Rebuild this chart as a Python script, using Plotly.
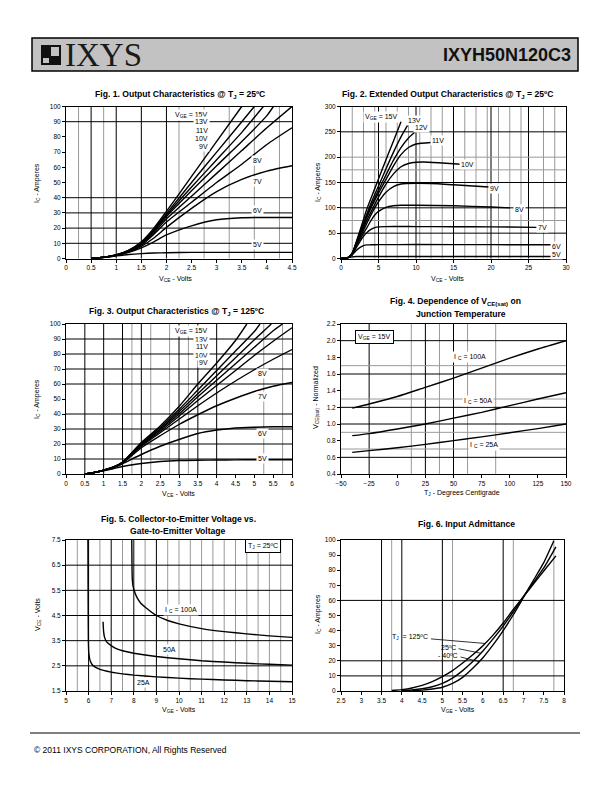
import plotly.graph_objects as go

W, H = 612, 792


def px(x):
    return x / W


def py(y):
    return 1 - y / H


# ======================= DATA =======================
# ---- Fig. 1  Output characteristics @ TJ = 25C (VCE volts, IC amperes)
F1_VGE_LABELS = ["15V", "13V", "11V", "10V", "9V", "8V", "7V", "6V", "5V"]
F1_X_15V = [0.5, 0.75, 1.0, 1.25, 1.5, 1.75, 2.0, 2.5, 3.0, 3.5]
F1_Y_15V = [0, 0.8, 2.3, 5.5, 11, 20, 31, 54, 77, 100]
F1_X_13V = [0.5, 0.75, 1.0, 1.25, 1.5, 1.75, 2.0, 2.5, 3.0, 3.5, 3.75]
F1_Y_13V = [0, 0.8, 2.3, 5.3, 10.5, 19, 29.5, 50, 70, 90, 100]
F1_X_11V = [0.5, 0.75, 1.0, 1.25, 1.5, 1.75, 2.0, 2.5, 3.0, 3.5, 3.93]
F1_Y_11V = [0, 0.8, 2.3, 5.2, 10, 18.5, 28.5, 47, 65, 83, 100]
F1_X_10V = [0.5, 0.75, 1.0, 1.25, 1.5, 1.75, 2.0, 2.5, 3.0, 3.5, 4.0, 4.13]
F1_Y_10V = [0, 0.8, 2.3, 5.0, 9.7, 18, 27.5, 44.5, 61, 77, 94, 100]
F1_X_FULL = [0.5, 0.75, 1.0, 1.25, 1.5, 1.75, 2.0, 2.5, 3.0, 3.5, 4.0, 4.5]
F1_Y_9V = [0, 0.8, 2.2, 4.9, 9.3, 17, 26, 41, 56, 71, 86, 100]
F1_Y_8V = [0, 0.8, 2.2, 4.7, 8.8, 16, 24, 37, 50, 62, 75, 86]
F1_Y_7V = [0, 0.8, 2.1, 4.4, 8.0, 13.5, 20.5, 33, 44, 52, 57.5, 61]
F1_Y_6V = [0, 0.8, 2.0, 4.0, 7.0, 11, 15.5, 21.5, 25.5, 26.8, 27, 27]
F1_Y_5V = [0, 0.7, 1.7, 2.6, 3.2, 3.6, 3.8, 4.0, 4.0, 4.0, 4.0, 4.0]

# ---- Fig. 2  Extended output characteristics @ TJ = 25C
F2_X_15V = [0, 0.5, 1.0, 1.5, 2.0, 2.5, 3.0, 3.5, 4, 5, 6, 7, 8]
F2_Y_15V = [0, 0, 2.3, 11, 31, 54, 77, 100, 119, 157, 195, 232, 270]
F2_X_13V = [0, 0.5, 1.0, 1.5, 2.0, 2.5, 3.0, 3.5, 4, 5, 6, 7, 8, 9.05]
F2_Y_13V = [0, 0, 2.3, 10.5, 29.5, 50, 70, 90, 109, 143, 177, 210, 240, 267]
F2_X_12V = [0, 0.5, 1.0, 1.5, 2.0, 2.5, 3.0, 3.5, 4, 5, 6, 7, 8, 9, 10]
F2_Y_12V = [0, 0, 2.3, 10.2, 29, 48.5, 67.5, 86.5, 104, 135, 165, 194, 219, 238, 251]
F2_X_11V = [0, 0.5, 1.0, 1.5, 2.0, 2.5, 3.0, 3.5, 4, 5, 6, 7, 8, 9, 10, 12]
F2_Y_11V = [0, 0, 2.3, 10, 28.5, 47, 65, 83, 100, 129, 156, 183, 205, 219, 226, 229]
F2_X_10V = [0, 0.5, 1.0, 1.5, 2.0, 2.5, 3.0, 3.5, 4, 5, 6, 7, 8, 9, 10, 11, 13, 16]
F2_Y_10V = [0, 0, 2.3, 9.7, 27.5, 44.5, 61, 77, 92, 121, 147, 167, 181, 187.5, 190, 190.5, 189, 186]
F2_X_9V = [0, 0.5, 1.0, 1.5, 2.0, 2.5, 3.0, 3.5, 4, 4.5, 5, 6, 7, 8, 10, 12, 15, 19.7]
F2_Y_9V = [0, 0, 2.2, 9.3, 26, 41, 56, 71, 86, 100, 112, 131, 142, 147, 148.5, 148, 145.5, 141]
F2_X_8V = [0, 0.5, 1.0, 1.5, 2.0, 2.5, 3.0, 3.5, 4, 4.5, 5, 6, 7, 8, 10, 15, 20, 22.5]
F2_Y_8V = [0, 0, 2.2, 8.8, 24, 37, 50, 62, 75, 86, 93, 101, 104, 105, 105, 104, 101.5, 100]
F2_X_7V = [0, 0.5, 1.0, 1.5, 2.0, 2.5, 3.0, 3.5, 4, 4.5, 5, 6, 8, 10, 15, 20, 26.1]
F2_Y_7V = [0, 0, 2.1, 8, 20.5, 33, 44, 52, 57.5, 61, 62.5, 63, 63.2, 63, 62.8, 62.5, 61.5]
F2_X_6V = [0, 0.5, 1.0, 1.5, 2.0, 2.5, 3.0, 3.5, 4, 5, 10, 20, 28.2]
F2_Y_6V = [0, 0, 2.0, 7, 15.5, 21.5, 25.5, 26.8, 27, 27.3, 27.5, 27.3, 27]
F2_X_5V = [0, 0.5, 1.0, 1.5, 2.0, 3, 4, 10, 20, 28.5]
F2_Y_5V = [0, 0, 1.7, 3.2, 3.8, 4, 4, 4, 4, 4]

# ---- Fig. 3  Output characteristics @ TJ = 125C
F3_X_15V = [0.5, 0.75, 1.0, 1.25, 1.5, 2.0, 2.5, 3.0, 3.5, 4.0, 4.5, 4.8]
F3_Y_15V = [0, 1, 2.5, 4.5, 8.0, 21, 32, 45, 60, 74, 89, 100]
F3_X_13V = [0.5, 0.75, 1.0, 1.25, 1.5, 2.0, 2.5, 3.0, 3.5, 4.0, 4.5, 5.0, 5.15]
F3_Y_13V = [0, 1, 2.5, 4.5, 7.8, 20.5, 31, 43, 56, 69, 82, 95, 100]
F3_X_11V = [0.5, 0.75, 1.0, 1.25, 1.5, 2.0, 2.5, 3.0, 3.5, 4.0, 4.5, 5.0, 5.45]
F3_Y_11V = [0, 1, 2.5, 4.5, 7.7, 20, 30, 41.5, 53.5, 65.5, 77.5, 89.5, 100]
F3_X_10V = [0.5, 0.75, 1.0, 1.25, 1.5, 2.0, 2.5, 3.0, 3.5, 4.0, 4.5, 5.0, 5.5, 5.75]
F3_Y_10V = [0, 1, 2.5, 4.5, 7.6, 19.5, 29.5, 40, 51.5, 62.5, 73.5, 84.5, 95.5, 100]
F3_X_FULL = [0.5, 0.75, 1.0, 1.25, 1.5, 2.0, 2.5, 3.0, 3.5, 4.0, 4.5, 5.0, 5.5, 6.0]
F3_Y_9V = [0, 1, 2.5, 4.4, 7.5, 19, 28.5, 38.5, 49, 59, 69, 79, 88.5, 97.5]
F3_Y_8V = [0, 1, 2.5, 4.4, 7.4, 18.5, 27.5, 36.5, 45.5, 54, 62, 69.5, 76.5, 83]
F3_Y_7V = [0, 1, 2.4, 4.3, 7.2, 17.5, 25.5, 33, 39.5, 45.5, 50.5, 55, 58.5, 61]
F3_Y_6V = [0, 1, 2.3, 4.1, 6.8, 13, 18.5, 23, 27, 29.3, 30.7, 31.2, 31.5, 31.5]
F3_Y_5V = [0, 0.9, 2.2, 3.5, 5.0, 7.0, 8.3, 9.0, 9.2, 9.3, 9.4, 9.5, 9.5, 9.5]

# ---- Fig. 4  VCE(sat) normalized vs junction temperature
F4_TJ = [-40, -25, 0, 25, 50, 75, 100, 125, 150]
F4_100A = [1.19, 1.24, 1.33, 1.44, 1.55, 1.67, 1.79, 1.90, 2.00]
F4_50A = [0.86, 0.885, 0.94, 1.0, 1.07, 1.14, 1.22, 1.30, 1.375]
F4_25A = [0.66, 0.68, 0.715, 0.755, 0.80, 0.845, 0.895, 0.945, 1.0]

# ---- Fig. 5  VCE vs VGE @ TJ = 25C
F5_X_100A = [7.91, 7.92, 7.93, 7.96, 8.05, 8.15, 8.3, 8.55, 9.0, 9.5, 10, 11, 12, 13, 14, 15]
F5_Y_100A = [7.5, 6.5, 6.0, 5.7, 5.4, 5.2, 5.0, 4.8, 4.5, 4.3, 4.17, 3.98, 3.86, 3.77, 3.69, 3.63]
F5_X_50A = [6.64, 6.66, 6.7, 6.8, 7.0, 7.25, 7.5, 8, 9, 10, 11, 12, 13, 14, 15]
F5_Y_50A = [4.25, 3.9, 3.65, 3.45, 3.3, 3.17, 3.1, 3.0, 2.87, 2.78, 2.7, 2.65, 2.6, 2.56, 2.53]
F5_X_25A = [5.97, 5.98, 5.99, 6.01, 6.07, 6.2, 6.45, 7.0, 7.5, 8, 9, 10, 11, 12, 13, 14, 15]
F5_Y_25A = [7.5, 5.0, 3.5, 3.0, 2.7, 2.5, 2.38, 2.25, 2.18, 2.13, 2.06, 2.01, 1.97, 1.94, 1.91, 1.89, 1.87]

# ---- Fig. 6  Input admittance (VGE volts, IC amperes)
F6_X_125C = [3.75, 4.0, 4.25, 4.5, 4.75, 5.0, 5.25, 5.5, 5.75, 6.0, 6.25, 6.5, 6.75, 7.0, 7.25, 7.5, 7.8]
F6_Y_125C = [0.3, 0.9, 2.0, 3.7, 6.2, 9.5, 13.5, 18.5, 24, 30, 37, 45, 54, 62.5, 71, 79.5, 89.5]
F6_X_25C = [4.0, 4.25, 4.5, 4.75, 5.0, 5.25, 5.5, 5.75, 6.0, 6.25, 6.5, 6.75, 7.0, 7.25, 7.5, 7.8]
F6_Y_25C = [0.2, 0.7, 1.5, 2.8, 5.0, 8.5, 13.5, 19.5, 26.5, 34.5, 43, 52.5, 62.5, 72, 81.5, 95.5]
F6_X_M40C = [4.25, 4.5, 4.75, 5.0, 5.25, 5.5, 5.75, 6.0, 6.25, 6.5, 6.75, 7.0, 7.25, 7.5, 7.75]
F6_Y_M40C = [0.2, 0.6, 1.3, 2.5, 5.0, 9.0, 15, 22, 30.5, 40, 50.5, 62, 73.5, 85, 99.5]

# ======================= STYLE =======================
TICK_FONT = dict(family="Liberation Sans, Arial", size=6.5, color="black")
LBL_FONT = dict(family="Liberation Sans, Arial", size=7, color="black")
TITLE_FONT = dict(family="Liberation Sans, Arial", size=8.6, color="black")
CURVE = dict(color="black", width=1.4, shape="spline", smoothing=0.6)
CURVE5 = dict(color="black", width=1.4, shape="spline", smoothing=0.3)
GRID_BLACK = "black"
GRID_GRAY = "#9a9a9a"

COL_L = [66 / W, 292 / W]
COL_R = [341 / W, 566 / W]
ROW1 = [py(258.5), py(106.5)]
ROW2 = [py(474), py(324)]
ROW3 = [py(691), py(540)]

fig = go.Figure()


def add_curve(n, xs, ys, line=CURVE):
    ax = "x" if n == 1 else f"x{n}"
    ay = "y" if n == 1 else f"y{n}"
    fig.add_trace(go.Scatter(x=xs, y=ys, xaxis=ax, yaxis=ay, mode="lines",
                             line=line, showlegend=False, hoverinfo="skip"))


# Fig 1
for xs, ys in [(F1_X_15V, F1_Y_15V), (F1_X_13V, F1_Y_13V), (F1_X_11V, F1_Y_11V),
               (F1_X_10V, F1_Y_10V), (F1_X_FULL, F1_Y_9V), (F1_X_FULL, F1_Y_8V),
               (F1_X_FULL, F1_Y_7V), (F1_X_FULL, F1_Y_6V), (F1_X_FULL, F1_Y_5V)]:
    add_curve(1, xs, ys)
# Fig 2
for xs, ys in [(F2_X_15V, F2_Y_15V), (F2_X_13V, F2_Y_13V), (F2_X_12V, F2_Y_12V),
               (F2_X_11V, F2_Y_11V), (F2_X_10V, F2_Y_10V), (F2_X_9V, F2_Y_9V),
               (F2_X_8V, F2_Y_8V), (F2_X_7V, F2_Y_7V), (F2_X_6V, F2_Y_6V), (F2_X_5V, F2_Y_5V)]:
    add_curve(2, xs, ys)
# Fig 3
for xs, ys in [(F3_X_15V, F3_Y_15V), (F3_X_13V, F3_Y_13V), (F3_X_11V, F3_Y_11V),
               (F3_X_10V, F3_Y_10V), (F3_X_FULL, F3_Y_9V), (F3_X_FULL, F3_Y_8V),
               (F3_X_FULL, F3_Y_7V), (F3_X_FULL, F3_Y_6V), (F3_X_FULL, F3_Y_5V)]:
    add_curve(3, xs, ys)
# Fig 4
for ys in [F4_100A, F4_50A, F4_25A]:
    add_curve(4, F4_TJ, ys)
# Fig 5
for xs, ys in [(F5_X_100A, F5_Y_100A), (F5_X_50A, F5_Y_50A), (F5_X_25A, F5_Y_25A)]:
    add_curve(5, xs, ys, CURVE5)
# Fig 6
for xs, ys in [(F6_X_125C, F6_Y_125C), (F6_X_25C, F6_Y_25C), (F6_X_M40C, F6_Y_M40C)]:
    add_curve(6, xs, ys)


def axis(domain, rng, dtick, tick0, anchor, fmt=None):
    d = dict(domain=domain, range=rng, tickmode="linear", dtick=dtick, tick0=tick0,
             anchor=anchor, showline=True, mirror=True, linecolor="black", linewidth=1,
             ticks="outside", ticklen=3, tickwidth=1, tickcolor="black", showgrid=False,
             zeroline=False, tickfont=TICK_FONT, fixedrange=True)
    if fmt:
        d["tickformat"] = fmt
    return d


layout = dict(
    width=W, height=H, margin=dict(l=0, r=0, t=0, b=0), autosize=False,
    paper_bgcolor="white", plot_bgcolor="white", template="none", showlegend=False,
    xaxis=axis(COL_L, [0, 4.5], 0.5, 0, "y"),
    yaxis=axis(ROW1, [0, 100], 10, 0, "x"),
    xaxis2=axis(COL_R, [0, 30], 5, 0, "y2"),
    yaxis2=axis(ROW1, [0, 300], 50, 0, "x2"),
    xaxis3=axis(COL_L, [0, 6], 0.5, 0, "y3"),
    yaxis3=axis(ROW2, [0, 100], 10, 0, "x3"),
    xaxis4=axis(COL_R, [-50, 150], 25, -50, "y4"),
    yaxis4=axis(ROW2, [0.4, 2.2], 0.2, 0.4, "x4", ".1f"),
    xaxis5=axis(COL_L, [5, 15], 1, 5, "y5"),
    yaxis5=axis(ROW3, [1.5, 7.5], 1, 1.5, "x5"),
    xaxis6=axis([341 / W, 564 / W], [2.5, 8], 0.5, 2.5, "y6"),
    yaxis6=axis(ROW3, [0, 100], 10, 0, "x6"),
)
fig.update_layout(**layout)

# ---------------- grid lines (decoration) ----------------
GRIDS = {
    1: dict(vb=[0.5, 1.0, 1.5, 2.0], vg=[0.25, 0.75, 2.25, 2.75, 3.25, 3.75, 4.25],
            hb=[10, 20, 30, 40, 90], hg=[]),
    2: dict(vb=[5, 10, 15, 20, 25], vg=[1.5, 3, 4.5, 6, 7.5, 9, 10.5, 12, 13.5, 16.5, 18, 19.5,
                                        21, 22.5, 24, 27, 28.5],
            hb=[50, 100, 150, 250], hg=[75, 175, 200]),
    3: dict(vb=[0.5, 1.0, 1.5, 2.0, 3.0, 3.5, 4.0], vg=[1.75, 2.25, 2.75, 3.25, 5.25, 5.75],
            hb=[10, 20, 30, 40, 60, 70, 80, 90], hg=[]),
    4: dict(vb=[-25, 25, 50], vg=[12.5, 37.5, 62.5, 87.5],
            hb=[0.6, 1.0, 1.2, 1.6, 2.0], hg=[0.7, 0.9, 1.3, 1.7]),
    5: dict(vb=[6, 7, 8, 9], vg=[5.5, 6.5, 7.5, 8.5, 9.5, 10, 10.5, 11, 11.5, 12, 12.5, 13,
                                 13.5, 14, 14.5],
            hb=[2.5, 3.5, 4.5, 5.5, 6.5], hg=[]),
    6: dict(vb=[3.5, 4.0, 5.0, 6.5], vg=[3.75, 5.25, 6.75, 7.75], hb=[10, 20, 60], hg=[]),
}
shapes = []
for n, g in GRIDS.items():
    xr = "x" if n == 1 else f"x{n}"
    yr = "y" if n == 1 else f"y{n}"
    for key, color in [("vg", GRID_GRAY), ("vb", GRID_BLACK)]:
        for v in g[key]:
            shapes.append(dict(type="line", xref=xr, yref=yr + " domain", x0=v, x1=v, y0=0, y1=1,
                               line=dict(color=color, width=1), layer="below"))
    for key, color in [("hg", GRID_GRAY), ("hb", GRID_BLACK)]:
        for v in g[key]:
            shapes.append(dict(type="line", xref=xr + " domain", yref=yr, x0=0, x1=1, y0=v, y1=v,
                               line=dict(color=color, width=1), layer="below"))

# header box + logo
shapes.append(dict(type="rect", xref="paper", yref="paper", x0=px(32), x1=px(578), y0=py(71), y1=py(38),
                   fillcolor="#c2c2c2", line=dict(color="black", width=1.5), layer="below"))
shapes.append(dict(type="rect", xref="paper", yref="paper", x0=px(41), x1=px(61), y0=py(65), y1=py(45),
                   fillcolor="#111111", line=dict(width=0)))
shapes.append(dict(type="rect", xref="paper", yref="paper", x0=px(51), x1=px(59), y0=py(56), y1=py(47),
                   fillcolor="#c2c2c2", line=dict(width=0)))
shapes.append(dict(type="rect", xref="paper", yref="paper", x0=px(43), x1=px(49), y0=py(63), y1=py(58),
                   fillcolor="#c2c2c2", line=dict(width=0)))
# footer rule
shapes.append(dict(type="line", xref="paper", yref="paper", x0=px(30), x1=px(580), y0=py(733), y1=py(733),
                   line=dict(color="black", width=1)))

# Fig 6 leader lines
for (x0, y0, x1, y1) in [(4.72, 34.5, 6.05, 31.5), (5.4, 28, 5.95, 25), (5.45, 22.5, 5.9, 19.5)]:
    shapes.append(dict(type="line", xref="x6", yref="y6", x0=x0, y0=y0, x1=x1, y1=y1,
                       line=dict(color="black", width=0.8)))

fig.update_layout(shapes=shapes)

ann = []


def paper_text(text, x, y, font, xanchor="center", textangle=0):
    ann.append(dict(text=text, x=px(x), y=py(y), xref="paper", yref="paper", showarrow=False,
                    xanchor=xanchor, yanchor="middle", font=font, textangle=textangle))


def data_text(n, text, x, y, xanchor="center", bg="white", border=None, font=LBL_FONT):
    d = dict(text=text, x=x, y=y, xref="x" if n == 1 else f"x{n}", yref="y" if n == 1 else f"y{n}",
             showarrow=False, xanchor=xanchor, yanchor="middle", font=font, bgcolor=bg, borderpad=1)
    if border:
        d.update(bordercolor=border, borderwidth=1, borderpad=2)
    ann.append(d)


# header
paper_text("IXYS", 63, 55.5, dict(family="Liberation Serif, Times New Roman", size=33, color="#1a1a1a"), "left")
paper_text("<b>IXYH50N120C3</b>", 573, 55, dict(family="Liberation Sans, Arial", size=18, color="#111111"), "right")
# footer
paper_text("© 2011 IXYS CORPORATION, All Rights Reserved", 32, 750,
           dict(family="Liberation Sans, Arial", size=8.5, color="black"), "left")

# figure titles
paper_text("<b>Fig. 1. Output Characteristics @ T<sub>J</sub> = 25ºC</b>", 180, 95, TITLE_FONT)
paper_text("<b>Fig. 2. Extended Output Characteristics @ T<sub>J</sub> = 25ºC</b>", 447, 94.5, TITLE_FONT)
paper_text("<b>Fig. 3. Output Characteristics @ T<sub>J</sub> = 125ºC</b>", 176, 311, TITLE_FONT)
paper_text("<b>Fig. 4. Dependence of V<sub>CE(sat)</sub> on</b>", 455, 301.5, TITLE_FONT)
paper_text("<b>Junction Temperature</b>", 461, 314, TITLE_FONT)
paper_text("<b>Fig. 5. Collector-to-Emitter Voltage vs.</b>", 178, 519, TITLE_FONT)
paper_text("<b>Gate-to-Emitter Voltage</b>", 178, 531, TITLE_FONT)
paper_text("<b>Fig. 6. Input Admittance</b>", 466, 524, TITLE_FONT)

# axis titles
paper_text("V<sub>CE</sub> - Volts", 175, 279, LBL_FONT)
paper_text("V<sub>CE</sub> - Volts", 447, 279, LBL_FONT)
paper_text("V<sub>CE</sub> - Volts", 178, 494, LBL_FONT)
paper_text("T<sub>J</sub> - Degrees Centigrade", 462, 493, LBL_FONT)
paper_text("V<sub>GE</sub> - Volts", 179, 710, LBL_FONT)
paper_text("V<sub>GE</sub> - Volts", 458, 710, LBL_FONT)
paper_text("I<sub>C</sub> - Amperes", 37, 183, LBL_FONT, textangle=-90)
paper_text("I<sub>C</sub> - Amperes", 318, 182, LBL_FONT, textangle=-90)
paper_text("I<sub>C</sub> - Amperes", 37, 399, LBL_FONT, textangle=-90)
paper_text("V<sub>CE(sat)</sub> - Normalized", 316, 398, LBL_FONT, textangle=-90)
paper_text("V<sub>CE</sub> - Volts", 38, 615, LBL_FONT, textangle=-90)
paper_text("I<sub>C</sub> - Amperes", 318, 614, LBL_FONT, textangle=-90)

# Fig 1 curve labels
data_text(1, "V<sub>GE</sub> = 15V", 2.87, 94.5, "right")
for lab, yv in zip(F1_VGE_LABELS[1:5], [90, 84.5, 79, 74]):
    data_text(1, lab, 2.87, yv, "right")
for lab, yv in zip(F1_VGE_LABELS[5:], [64.7, 50.8, 31.3, 9.5]):
    data_text(1, lab, 3.82, yv)
# Fig 2 curve labels
data_text(2, "V<sub>GE</sub> = 15V", 5.45, 280)
for lab, xv, yv in [("13V", 9.76, 273), ("12V", 10.7, 257.6), ("11V", 12.9, 232.7),
                    ("10V", 16.8, 185.7), ("9V", 20.5, 139), ("8V", 23.8, 97.5),
                    ("7V", 26.8, 61.5), ("6V", 28.75, 23), ("5V", 28.75, 8.6)]:
    data_text(2, lab, xv, yv)
# Fig 3 curve labels
data_text(3, "V<sub>GE</sub> = 15V", 3.83, 95.5, "right")
for lab, yv in zip(F1_VGE_LABELS[1:5], [90, 84.7, 79.3, 74.2]):
    data_text(3, lab, 3.83, yv, "right")
for lab, yv in zip(F1_VGE_LABELS[5:], [66.7, 51.5, 27.1, 10.4]):
    data_text(3, lab, 5.22, yv)
# Fig 4 labels
data_text(4, "V<sub>GE</sub> = 15V", -38, 2.04, "left", border="black")
data_text(4, "I <sub>C</sub> = 100A", 65, 1.80)
data_text(4, "I <sub>C</sub> = 50A", 72, 1.28)
data_text(4, "I <sub>C</sub> = 25A", 77, 0.75)
# Fig 5 labels
data_text(5, "T<sub>J</sub> = 25ºC", 13.7, 7.27, border="black")
data_text(5, "I <sub>C</sub> = 100A", 10.1, 4.73)
data_text(5, "50A", 9.6, 3.13)
data_text(5, "25A", 8.45, 1.82)
# Fig 6 labels
data_text(6, "T<sub>J</sub>  = 125ºC", 4.7, 35.5, "right", bg="rgba(0,0,0,0)")
data_text(6, "25ºC", 5.38, 29, "right", bg="rgba(0,0,0,0)")
data_text(6, "- 40ºC", 5.43, 23.5, "right", bg="rgba(0,0,0,0)")

fig.update_layout(annotations=ann)

fig.write_html("out.html", config=dict(displayModeBar=False, staticPlot=True),
               post_script="document.body.style.margin='0px';")
